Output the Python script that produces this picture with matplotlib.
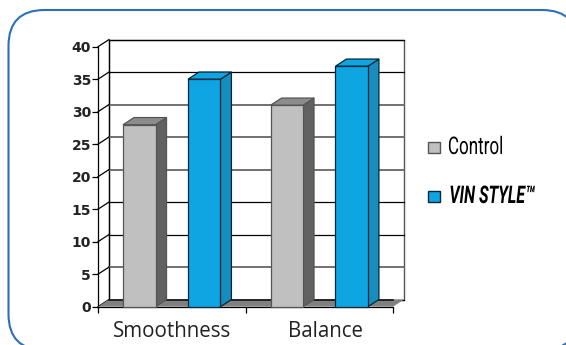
import matplotlib
matplotlib.use('Agg')
import matplotlib.pyplot as plt
from matplotlib.patches import FancyBboxPatch, Polygon, Rectangle
from matplotlib.patheffects import AbstractPathEffect
from matplotlib.transforms import Affine2D

categories = ['Smoothness', 'Balance']
control = [28, 31]
vin_style = [35, 37]
y_ticks = [0, 5, 10, 15, 20, 25, 30, 35, 40]
label_x = [0.5, 1.545]
dark_grid = [0, 10, 15, 35, 40]

W, H = 566, 345
BORDER = '#2e6fb7'
DX, DY = 0.0746, 1.1     # depth of the 3d effect, in data units


class Squeeze(AbstractPathEffect):
    """Narrow a text horizontally around a fixed pixel column."""

    def __init__(self, x0, factor):
        super().__init__()
        self.x0 = x0
        self.factor = factor

    def draw_path(self, renderer, gc, tpath, affine, rgbFace=None):
        squeeze = Affine2D().translate(-self.x0, 0).scale(self.factor, 1).translate(self.x0, 0)
        renderer.draw_path(gc, tpath, affine + squeeze, rgbFace)


def bar3d(ax, left, width, value, front, top, side, edge, lw=0.9):
    right = left + width
    ax.add_patch(Polygon([(right, 0), (right + DX, DY), (right + DX, value + DY), (right, value)],
                         fc=side, ec=edge, lw=lw, clip_on=False, zorder=4))
    ax.add_patch(Polygon([(left, value), (left + DX, value + DY), (right + DX, value + DY), (right, value)],
                         fc=top, ec=edge, lw=lw, clip_on=False, zorder=4))
    ax.bar(left, value, width, align='edge', color=front, edgecolor=edge, linewidth=lw,
           clip_on=False, zorder=5)


fig = plt.figure(figsize=(W / 100, H / 100), dpi=100, facecolor='white')

# rounded frame runs past the bottom and right of the canvas
bg = fig.add_axes([0, 0, 1, 1])
bg.set_xlim(0, W)
bg.set_ylim(H, 0)
bg.axis('off')
bg.add_patch(FancyBboxPatch((44.5, 46), 497.5, 268, boxstyle='round,pad=36,rounding_size=36',
                            fc='white', ec=BORDER, lw=1.5))

ax = fig.add_axes([98 / W, 1 - 306.7 / H, 295 / W, 260 / H])
ax.set_xlim(0, 2)
ax.set_ylim(0, 40)
ax.patch.set_visible(False)
for s in ['top', 'right']:
    ax.spines[s].set_visible(False)
ax.spines['left'].set_linewidth(0.9)
ax.spines['bottom'].set_linewidth(0.9)

# back wall, floor and side wall
ax.add_patch(Polygon([(DX, DY), (2 + DX, DY), (2 + DX, 40 + DY), (DX, 40 + DY)],
                     fc='white', ec='#555555', lw=1.0, clip_on=False, zorder=1))
ax.plot([DX, DX], [DY, 40 + DY], color='black', lw=0.9, clip_on=False, zorder=2)
for tick in y_ticks:
    dark = tick in dark_grid
    ax.plot([DX, 2 + DX], [tick + DY, tick + DY], color='black' if dark else '#666666',
            lw=0.9 if dark else 1.3, clip_on=False, zorder=2)
    ax.plot([0, DX], [tick, tick + DY], color='black', lw=0.9, clip_on=False, zorder=2)
ax.add_patch(Polygon([(0, 0), (DX, DY), (2 + DX, DY), (2, 0)],
                     fc='#808080', ec='none', clip_on=False, zorder=3))
ax.plot([DX, 2], [DY, DY], color='#111111', lw=1.2, clip_on=False, zorder=3)

for i in range(len(categories)):
    center = i + 0.5
    bar3d(ax, center - 0.33, 0.22, control[i], '#c0c0c0', '#8c8c8c', '#616161', '#555555')
    bar3d(ax, center + 0.11, 0.22, vin_style[i], '#0ea5e2', '#0ea5e2', '#168dbd', '#04283a')

ax.set_yticks(y_ticks)
ax.set_yticklabels([str(t) for t in y_ticks], fontsize=10, fontweight='bold',
                   family='DejaVu Sans', color='#222222')
ax.set_xticks([0, 1, 2])
ax.set_xticklabels([])
ax.tick_params(axis='y', length=4, width=0.9, pad=1)
ax.tick_params(axis='x', length=4, width=0.9)
for x, name in zip(label_x, categories):
    ax.text(x, -3.75, name, ha='center', va='center', fontsize=14.8,
            family='Open Sans', color='#222222')

# legend
for y, c, ec, label, cx, factor, style, weight in [
        (147.5, '#c0c0c0', '#555555', 'Control', 475.5, 0.7, 'normal', 'normal'),
        (196.5, '#0ea5e2', '#04283a', 'VIN STYLE™', 492, 0.66, 'italic', 'bold')]:
    bg.add_patch(Rectangle((428, y - 5.5), 12, 11, fc=c, ec=ec, lw=1.0))
    bg.text(cx, y, label, ha='center', va='center', fontsize=17.5, color='black',
            family='Roboto', style=style, fontweight=weight,
            path_effects=[Squeeze(cx, factor)])

fig.savefig('out.png', dpi=100)
